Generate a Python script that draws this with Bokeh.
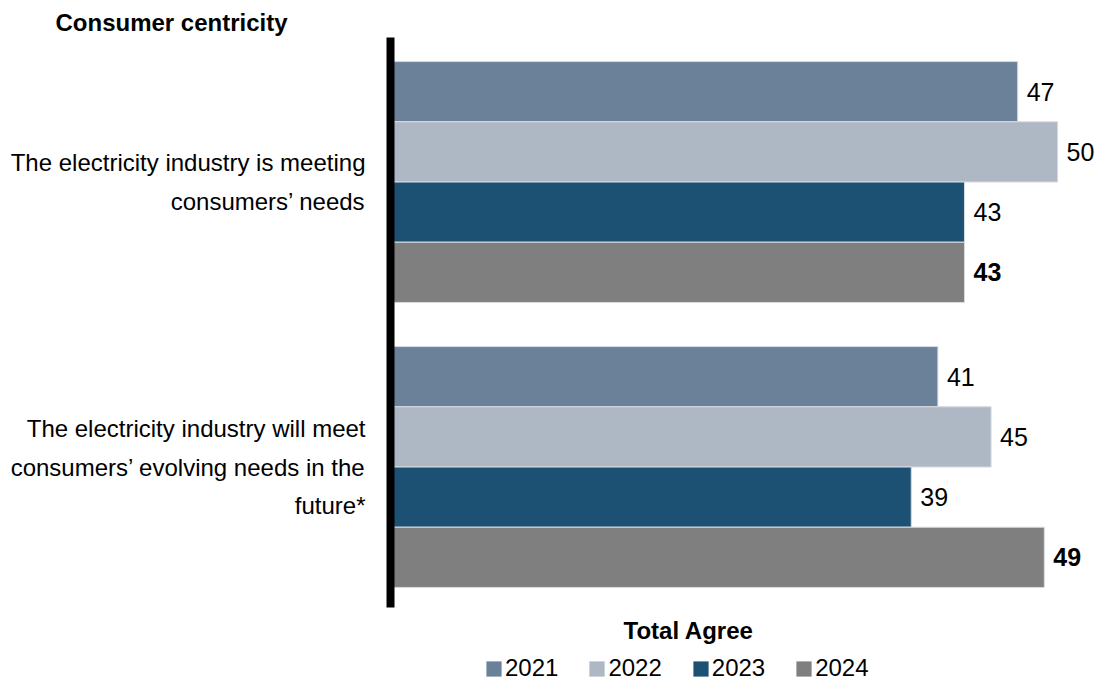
from bokeh.plotting import figure
from bokeh.layouts import column
from bokeh.models import ColumnDataSource, Range1d, FixedTicker, Legend, LegendItem, Title
from bokeh.core.properties import value
from bokeh.embed import file_html
from bokeh.resources import INLINE

# ---- data ----
categories = [
    "The electricity industry is meeting\nconsumers\u2019 needs",
    "The electricity industry will meet\nconsumers\u2019 evolving needs in the\nfuture*",
]
years = ["2021", "2022", "2023", "2024"]
v2021 = [47, 41]
v2022 = [50, 45]
v2023 = [43, 39]
v2024 = [43, 49]
series = [v2021, v2022, v2023, v2024]
colors = ["#6b8199", "#aeb7c4", "#1c5173", "#7f7f7f"]
title_text = "Consumer centricity"
x_title = "Total Agree"

FONT = "Liberation Sans"

W = 1097
H_MAIN = 650
H_LEG = 33
GAP = 0.733
n = len(years)
group_step = n + GAP

p = figure(width=W, height=H_MAIN, output_backend="svg", toolbar_location=None,
           x_range=Range1d(-0.15, 53.0),
           y_range=Range1d(len(categories) * group_step - GAP + 0.333, -0.4),
           min_border_left=390, min_border_right=0, min_border_top=37,
           min_border_bottom=43)
p.outline_line_color = None
p.xgrid.visible = False
p.ygrid.visible = False
p.xaxis.visible = False

# legend strip (its frame is aligned with the main plot's frame by the column)
q = figure(width=W, height=H_LEG, output_backend="svg", toolbar_location=None,
           x_range=Range1d(-100, -99), y_range=Range1d(100, 101),
           min_border_left=0, min_border_right=0, min_border_top=0, min_border_bottom=0)
q.outline_line_color = None
q.xaxis.visible = False
q.yaxis.visible = False
q.xgrid.visible = False
q.ygrid.visible = False

items = []
for j, (yr, vals, col) in enumerate(zip(years, series, colors)):
    ys = [gi * group_step + j + 0.5 for gi in range(len(categories))]
    src = ColumnDataSource(dict(y=ys, v=vals, lab=[str(v) for v in vals]))
    p.hbar(y="y", right="v", left=0, height=1.0, source=src,
           fill_color=col, line_color="#d6dbe1", line_width=1)
    p.text(x="v", y="y", text="lab", source=src, x_offset=9,
           text_align="left", text_baseline="middle",
           text_font=value(FONT), text_font_size="25px",
           text_font_style="bold" if yr == "2024" else "normal",
           text_color="#000000")
    # same series in the legend strip (outside its visible range), for legend swatches
    r = q.hbar(y="y", right="v", left=0, height=1.0, source=src,
               fill_color=col, line_color=None)
    items.append(LegendItem(label=yr, renderers=[r]))

centers = [gi * group_step + n / 2 for gi in range(len(categories))]
ax = p.yaxis[0]
ax.ticker = FixedTicker(ticks=centers)
ax.major_label_overrides = {c: lab for c, lab in zip(centers, categories)}
ax.axis_line_width = 8
ax.axis_line_color = "#000000"
ax.major_tick_line_color = None
ax.minor_tick_line_color = None
ax.major_tick_out = 0
ax.major_tick_in = 0
ax.major_label_standoff = 25
ax.major_label_text_font = FONT
ax.major_label_text_font_size = "24px"
ax.major_label_text_color = "#000000"
ax.major_label_text_line_height = 1.42

p.title.text = title_text
p.title.align = "left"
p.title.offset = -335
p.title.text_font = FONT
p.title.text_font_size = "24px"
p.title.text_font_style = "bold"
p.title.text_color = "#000000"
p.title.standoff = 4

bt = Title(text=x_title, align="left", offset=233, text_font=FONT,
           text_font_size="24px", text_font_style="bold", text_color="#000000",
           standoff=14)
p.add_layout(bt, "below")

leg = Legend(items=items, orientation="horizontal", location=(94, 1),
             glyph_width=19, glyph_height=19, label_standoff=2, spacing=29,
             padding=0, margin=0, border_line_color=None, background_fill_alpha=0,
             label_text_font=FONT, label_text_font_size="24px",
             label_text_color="#000000")
q.add_layout(leg, "center")

layout = column(p, q, spacing=0)
open("out.html", "w").write(file_html(layout, INLINE))
